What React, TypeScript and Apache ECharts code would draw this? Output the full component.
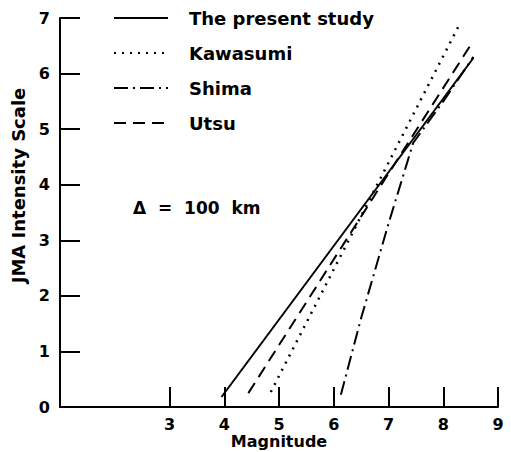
import React, { useEffect, useRef } from "react";
import * as echarts from "echarts";

const seriesNames = ["The present study", "Kawasumi", "Shima", "Utsu"];
const presentStudy: [number, number][] = [[3.95, 0.18], [8.55, 6.28]];
const kawasumi: [number, number][] = [[4.85, 0.27], [8.31, 6.91]];
const shima: [number, number][] = [[6.13, 0.22], [6.5, 1.6], [7.0, 3.3], [7.45, 4.75], [8.0, 5.5], [8.55, 6.3]];
const utsu: [number, number][] = [[4.44, 0.25], [8.53, 6.56]];
const xTicks = [3, 4, 5, 6, 7, 8, 9];
const annotation = "Δ  =  100  km";

const FONT = "DejaVu Sans";

export default function App() {
  const ref = useRef<HTMLDivElement>(null);
  useEffect(() => {
    if (!ref.current) return;
    const chart = echarts.init(ref.current, undefined, { renderer: "svg" });
    const lineCommon = {
      type: "line",
      symbol: "none",
      showSymbol: false,
      silent: true,
      itemStyle: { color: "rgba(0,0,0,0)" },
    };
    chart.setOption({
      animation: false,
      backgroundColor: "#ffffff",
      grid: { left: 60, right: 13, top: 18, bottom: 45, outerBoundsMode: "none" },
      legend: {
        orient: "vertical",
        left: 113,
        top: 9,
        padding: 0,
        itemWidth: 54,
        itemHeight: 14,
        itemGap: 17,
        data: seriesNames,
        itemStyle: { opacity: 0 },
        textStyle: { fontFamily: FONT, fontWeight: "bold", fontSize: 18, color: "#000", padding: [0, 0, 0, 16] },
      },
      xAxis: {
        type: "value",
        min: 1,
        max: 9,
        interval: 1,
        name: "Magnitude",
        nameLocation: "middle",
        nameGap: 26,
        nameMoveOverlap: false,
        nameTextStyle: { fontFamily: FONT, fontWeight: "bold", fontSize: 16, color: "#000", lineHeight: 17 },
        axisLine: { onZero: false, lineStyle: { color: "#000", width: 2 } },
        axisTick: { inside: true, length: 20, customValues: xTicks, lineStyle: { color: "#000", width: 2 } },
        axisLabel: { customValues: xTicks, margin: 9, lineHeight: 16, fontFamily: FONT, fontWeight: "bold", fontSize: 16, color: "#000" },
        splitLine: { show: false },
      },
      yAxis: {
        type: "value",
        min: 0,
        max: 7,
        interval: 1,
        name: "JMA Intensity Scale",
        nameLocation: "middle",
        nameGap: 26,
        nameTextStyle: { fontFamily: FONT, fontWeight: "bold", fontSize: 18, color: "#000", padding: [0, 0, 0, 54] },
        axisLine: { lineStyle: { color: "#000", width: 2 } },
        axisTick: { inside: true, length: 20, lineStyle: { color: "#000", width: 2 } },
        axisLabel: { margin: 10, fontFamily: FONT, fontWeight: "bold", fontSize: 16, color: "#000" },
        splitLine: { show: false },
      },
      graphic: [
        {
          type: "text",
          left: 133,
          top: 199,
          style: { text: annotation, fontFamily: FONT, fontWeight: "bold", fontSize: 17, fill: "#000" },
        },
      ],
      series: [
        { ...lineCommon, name: seriesNames[0], data: presentStudy, lineStyle: { color: "#000", width: 2, type: "solid" } },
        { ...lineCommon, name: seriesNames[1], data: kawasumi, lineStyle: { color: "#000", width: 2.5, type: [2, 6] } },
        { ...lineCommon, name: seriesNames[2], data: shima, lineStyle: { color: "#000", width: 2, type: [14, 5, 2, 5] } },
        { ...lineCommon, name: seriesNames[3], data: utsu, lineStyle: { color: "#000", width: 2, type: [12, 7] } },
      ],
    });
    return () => chart.dispose();
  }, []);
  return <div ref={ref} style={{ position: "fixed", left: 0, top: 0, width: 511, height: 452 }} />;
}
